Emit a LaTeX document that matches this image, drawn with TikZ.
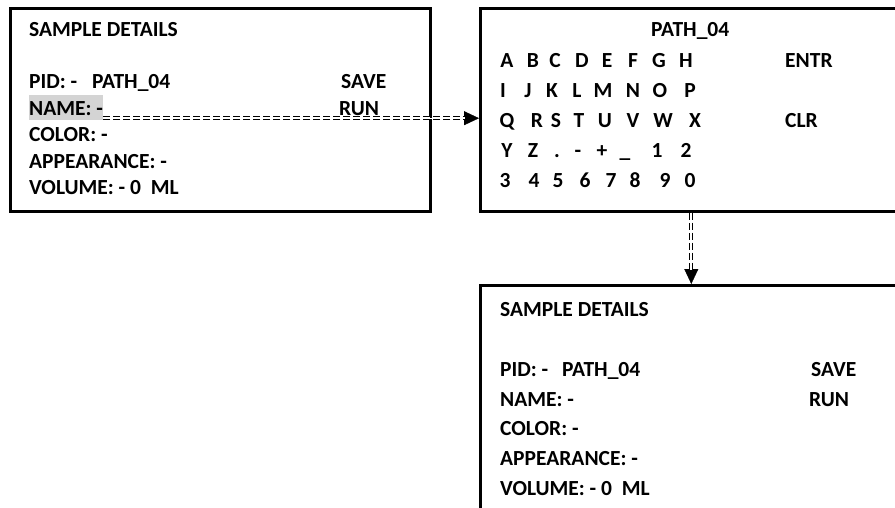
\documentclass[tikz,border=0pt]{standalone}
\usepackage{fontspec}
\setmainfont{Carlito}
\usepackage{tikz}
\usetikzlibrary{calc}
\usetikzlibrary{arrows.meta,positioning}

\tikzset{
  screen/.style={draw, line width=2.6pt, rectangle, anchor=north west, inner sep=0pt},
  lbl/.style={anchor=base west, inner sep=0pt},
  key/.style={anchor=base, inner sep=0pt},
  dbl/.style={double, double distance=2.2pt, line width=0.9pt, dash pattern=on 7pt off 3pt},
  tipline/.style={white, line width=0.4pt, -{Triangle[black, length=15pt, width=14pt]}},
}

\begin{document}
\begin{tikzpicture}[x=1pt, y=-1pt, font=\fontsize{21.5}{25}\selectfont\bfseries]
	\useasboundingbox (0,0) rectangle (895,508);
	\clip (0,0) rectangle (895,508);
	% the three screens
	\node[screen, minimum width=420pt, minimum height=203pt] (details) at (9,7) {};
	\node[screen, minimum width=422pt, minimum height=203pt] (keypad) at (479,7) {};
	\node[screen, minimum width=422pt, minimum height=250pt] (result) at (479,284) {};
	% first screen
	\node[lbl] (title1) at (29,37) {SAMPLE DETAILS};
	\node[lbl] (pid1) at (29,89) {PID: -};
	\node[lbl] (pidval1) at (92,89) {PATH\_04};
	\node[lbl, fill=black!17, text height=20pt, text depth=5pt] (namefld) at (29,115.5) {NAME: -};
	\node[lbl] (color1) at (29,142) {COLOR: -};
	\node[lbl] (appear1) at (29,168.5) {APPEARANCE: -};
	\node[lbl] (vol1) at (29,195) {VOLUME: - 0~~ML};
	\node[lbl] (save1) at (341,89) {SAVE};
	\node[lbl] (run1) at (339,115.5) {RUN};
	% keypad screen
	\node[lbl] (keytitle) at (651,37) {PATH\_04};
	\foreach \keys [count=\r] in {
		{A/507,B/533,C/555,D/582,E/607,F/633,G/659,H/686},
		{I/503,J/528,K/552,L/577,M/603,N/633,O/660,P/690},
		{Q/507,R/537,S/556,T/579,U/605,V/633,W/663,X/695},
		{Y/507,Z/533,./557,-/578,+/602,\_/625,1/657,2/686},
		{3/505,4/534,5/558,6/585,7/611,8/635,9/665,0/690}}
	{
		\foreach \ch/\xx [count=\c] in \keys
			\node[key] (key-\r-\c) at (\xx,{68+29.8*(\r-1)}) {\ch};
	}
	\node[lbl] (entr) at (785,68) {ENTR};
	\node[lbl] (clr) at (785,127.6) {CLR};
	% last screen
	\node[lbl] (title3) at (500,316) {SAMPLE DETAILS};
	\node[lbl] (pid3) at (500,376) {PID: -};
	\node[lbl] (pidval3) at (562,376) {PATH\_04};
	\node[lbl] (name3) at (500,406) {NAME: -};
	\node[lbl] (color3) at (500,435.5) {COLOR: -};
	\node[lbl] (appear3) at (500,465) {APPEARANCE: -};
	\node[lbl] (vol3) at (500,495) {VOLUME: - 0~~ML};
	\node[lbl] (save3) at (811,376) {SAVE};
	\node[lbl] (run3) at (809,406) {RUN};
	% connectors
	\coordinate (nameout) at ([yshift=2.5pt]namefld.south east);
	\draw[tipline] (nameout) -- (nameout -| keypad.west);
	\draw[dbl, shorten >=14pt] (nameout) -- (nameout -| keypad.west);
	\draw[tipline] (keypad.south) -- (result.north);
	\draw[dbl, shorten >=14pt] (keypad.south) -- (result.north);
\end{tikzpicture}
\end{document}
